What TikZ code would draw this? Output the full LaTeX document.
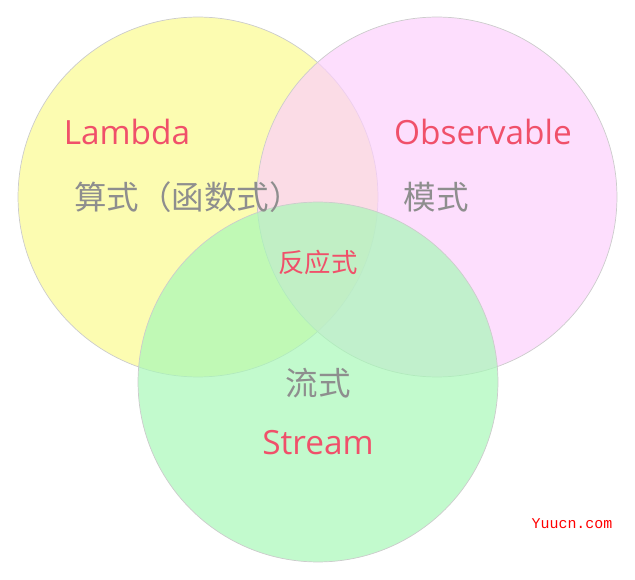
\documentclass[tikz,border=0pt]{standalone}
\usepackage{fontspec}
\setmainfont{Open Sans}
\newfontfamily\cjk{Noto Sans CJK SC}
\newfontfamily\wmfont{Liberation Mono}
\definecolor{lamyellow}{HTML}{FBFB90}
\definecolor{obspink}{HTML}{FCD0FC}
\definecolor{strgreen}{HTML}{A8F8B8}
\definecolor{titlered}{HTML}{F0506A}
\definecolor{labgray}{HTML}{8E8E8E}
\begin{document}
\begin{tikzpicture}[
    x = 0.02cm, y = -0.02cm,
    set/.style = {circle, draw = black!20, thin, fill opacity = 0.7, minimum size = 7.2cm, inner sep = 0pt},
    title/.style = {text = titlered, font = \fontsize{19}{22}\selectfont},
    kind/.style = {text = labgray, font = \cjk\fontsize{18.5}{22}\selectfont}
    ]
    \useasboundingbox (0,0) rectangle (635,580);
    % the three sets
    \node[set, fill = lamyellow] (lambda) at (198,197) {};
    \node[set, fill = obspink] (observable) at (437,197) {};
    \node[set, fill = strgreen] (stream) at (318,382) {};
    % labels
    \node[title] (lambdaname) at (127,132) {Lambda};
    \node[kind] (lambdakind) at (188,197) {算式（函数式）};
    \node[title] (obsname) at (483,132) {Observable};
    \node[kind] (obskind) at (436,197) {模式};
    \node[text = titlered, font = \cjk\fontsize{15}{18}\selectfont] (reactive) at (318,262) {反应式};
    \node[kind] (streamkind) at (318,383) {流式};
    \node[title] (streamname) at (318,443) {Stream};
    \node[text = red, font = \wmfont\fontsize{8.5}{10}\selectfont] (mark) at (572,524) {Yuucn.com};
\end{tikzpicture}
\end{document}
